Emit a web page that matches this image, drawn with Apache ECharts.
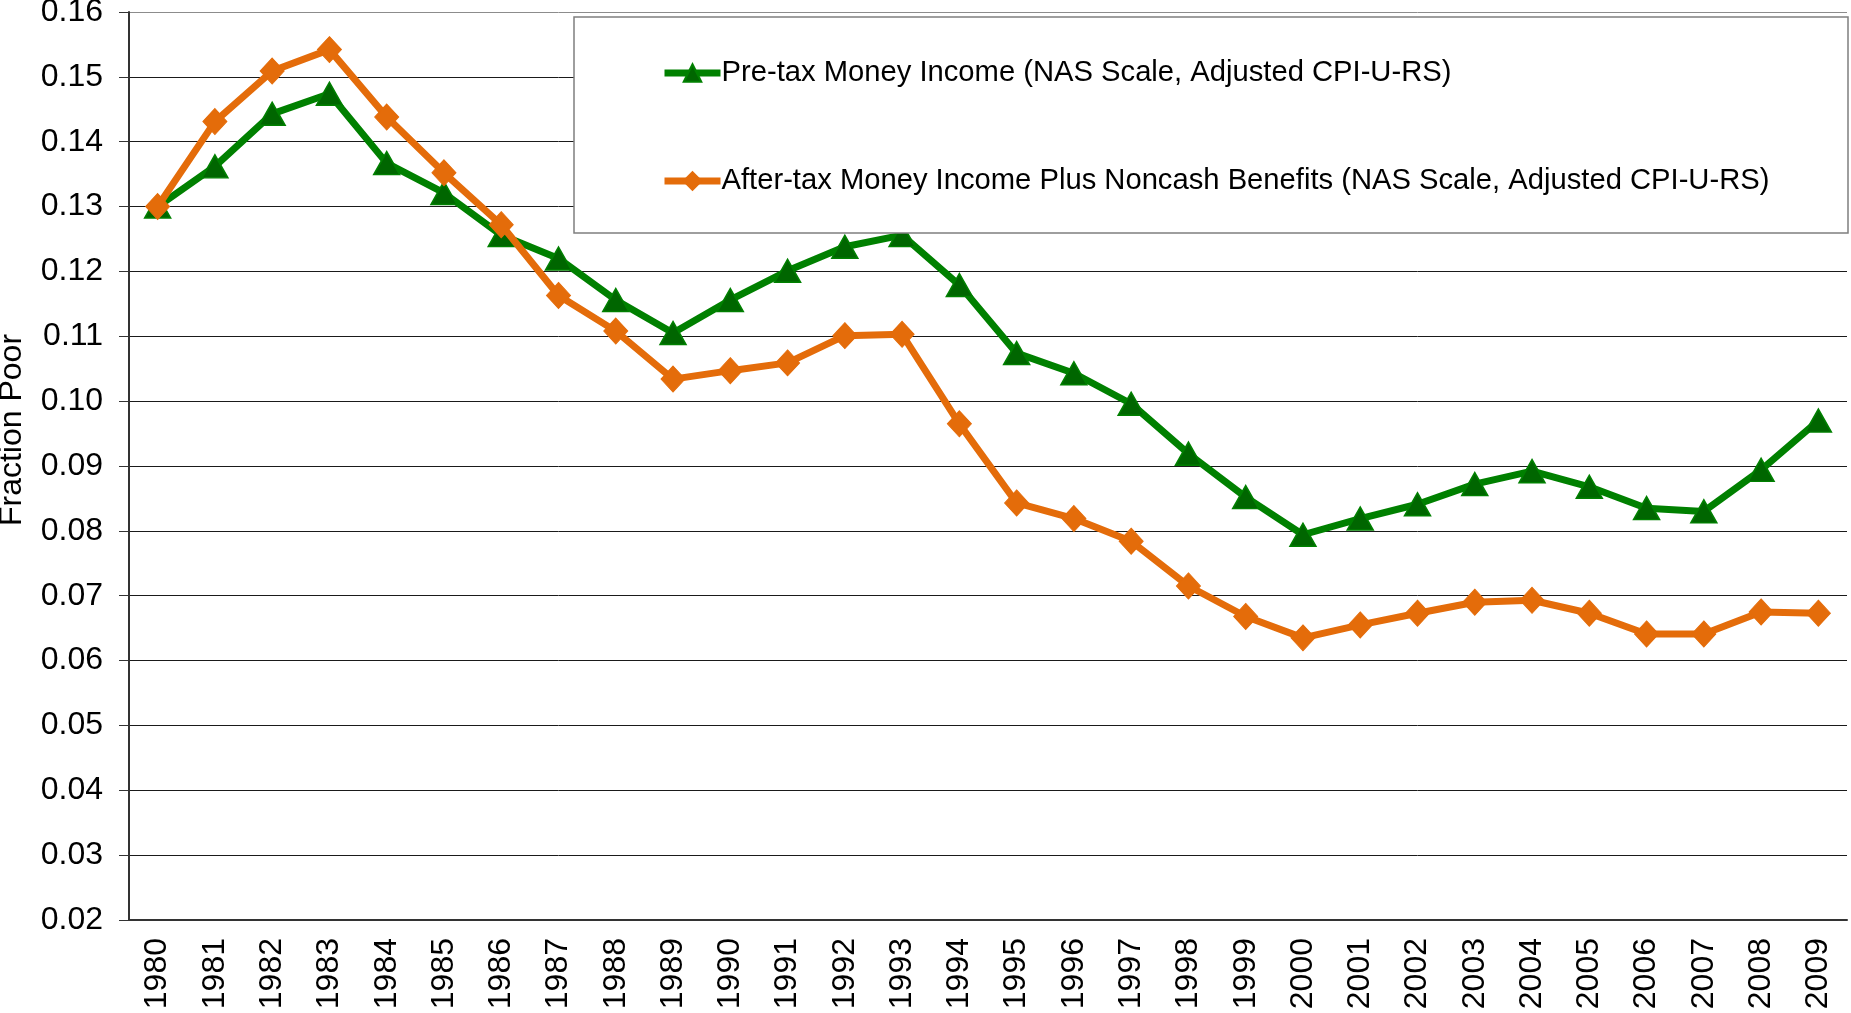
<!doctype html>
<html>
	<head>
		<meta charset="utf-8">
		<title>Fraction Poor</title>
		<script src="https://cdn.jsdelivr.net/npm/echarts@6/dist/echarts.min.js"></script>
		<style>
			html, body {
				margin: 0;
				padding: 0;
				background: #fff;
			}
			#chart {
				width: 1851px;
				height: 1013px;
			}
		</style>
	</head>

	<body>
		<div id="chart"></div>
	</body>

	<script type="text/javascript">
		//年份
		var years = ['1980', '1981', '1982', '1983', '1984', '1985', '1986', '1987', '1988', '1989',
			'1990', '1991', '1992', '1993', '1994', '1995', '1996', '1997', '1998', '1999',
			'2000', '2001', '2002', '2003', '2004', '2005', '2006', '2007', '2008', '2009'];
		//税前货币收入
		var preTax = [0.1300, 0.1362, 0.1443, 0.1474, 0.1367, 0.1321, 0.1256, 0.1220, 0.1156, 0.1105,
			0.1156, 0.1201, 0.1238, 0.1256, 0.1179, 0.1074, 0.1043, 0.0996, 0.0919, 0.0852,
			0.0794, 0.0819, 0.0841, 0.0872, 0.0892, 0.0868, 0.0835, 0.0830, 0.0894, 0.0970];
		//税后货币收入加非现金福利
		var afterTax = [0.1300, 0.1431, 0.1509, 0.1542, 0.1438, 0.1352, 0.1272, 0.1163, 0.1108, 0.1034,
			0.1047, 0.1059, 0.1101, 0.1103, 0.0965, 0.0843, 0.0819, 0.0784, 0.0715, 0.0668,
			0.0635, 0.0655, 0.0673, 0.0690, 0.0693, 0.0673, 0.0641, 0.0641, 0.0675, 0.0673];
		//系列名
		var seriesNames = ['Pre-tax Money Income (NAS Scale, Adjusted CPI-U-RS)',
			'After-tax Money Income Plus Noncash Benefits (NAS Scale, Adjusted CPI-U-RS)'];
		var yMin = 0.02;
		var yMax = 0.16;
		var yStep = 0.01;

		var font = "'Liberation Sans', Arial, sans-serif";

		// 网格线颜色，最上面一条为灰色
		var gridColors = [];
		for (var i = 0; i < 15; i++) {
			gridColors.push(i == 14 ? '#8c8c8c' : '#1a1a1a');
		}

		var chart = echarts.init(document.getElementById('chart'));

		var option = {
			animation: false,
			backgroundColor: '#fff',
			grid: {
				left: 129,
				right: 4,
				top: 12,
				bottom: 93,
				outerBoundsMode: 'none'
			},
			legend: {
				orient: 'vertical',
				left: 661,
				top: 58,
				itemGap: 78,
				itemWidth: 56,
				itemHeight: 22,
				padding: 0,
				z: 20,
				lineStyle: {
					width: 7
				},
				textStyle: {
					fontFamily: font,
					fontSize: 29.2,
					lineHeight: 30,
					color: '#000',
					padding: [0, 0, 0, -4]
				},
				data: seriesNames
			},
			graphic: [{
				type: 'rect',
				z: 10,
				shape: {
					x: 574,
					y: 17,
					width: 1274,
					height: 216
				},
				style: {
					fill: '#fff',
					stroke: '#7f7f7f',
					lineWidth: 1.5
				}
			}, {
				type: 'text',
				z: 10,
				x: 12,
				y: 430,
				rotation: Math.PI / 2,
				style: {
					text: 'Fraction Poor',
					fontFamily: font,
					fontSize: 32,
					fill: '#000',
					align: 'center',
					verticalAlign: 'middle'
				}
			}],
			xAxis: {
				type: 'category',
				data: years,
				boundaryGap: true,
				axisLine: {
					lineStyle: {
						color: '#333',
						width: 2
					}
				},
				axisTick: {
					length: 12,
					lineStyle: {
						color: '#333'
					}
				},
				axisLabel: {
					rotate: 90,
					margin: 18,
					fontFamily: font,
					fontSize: 32,
					color: '#000',
					interval: 0
				}
			},
			yAxis: {
				type: 'value',
				min: yMin,
				max: yMax,
				interval: yStep,
				axisLine: {
					show: true,
					lineStyle: {
						color: '#333',
						width: 2
					}
				},
				axisTick: {
					show: true,
					length: 10,
					lineStyle: {
						color: '#333'
					}
				},
				axisLabel: {
					margin: 26,
					fontFamily: font,
					fontSize: 32,
					color: '#000',
					formatter: function(v) {
						return v.toFixed(2);
					}
				},
				splitLine: {
					lineStyle: {
						color: gridColors,
						width: 1
					}
				}
			},
			series: [{
				name: seriesNames[0],
				type: 'line',
				data: preTax,
				z: 3,
				symbol: 'triangle',
				symbolSize: [26, 23],
				lineStyle: {
					color: '#008000',
					width: 7
				},
				itemStyle: {
					color: '#006600',
					borderColor: '#008000',
					borderWidth: 1.5
				}
			}, {
				name: seriesNames[1],
				type: 'line',
				data: afterTax,
				z: 4,
				symbol: 'diamond',
				symbolSize: [24, 26],
				lineStyle: {
					color: '#E46C0A',
					width: 7
				},
				itemStyle: {
					color: '#E46C0A',
					borderColor: '#E46C0A',
					borderWidth: 1
				}
			}]
		};

		chart.setOption(option);
	</script>

</html>
